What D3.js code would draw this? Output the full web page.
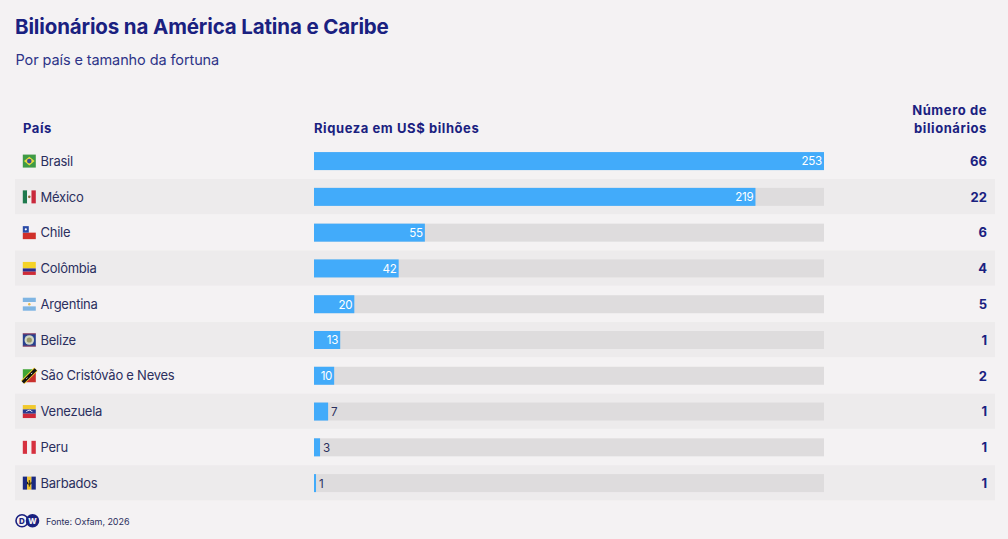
<!DOCTYPE html>
<html lang="pt-BR">
<head>
<meta charset="utf-8">
<title>Bilionários na América Latina e Caribe</title>
<script src="https://cdn.jsdelivr.net/npm/d3@7/dist/d3.min.js"></script>
<style>
  html, body { margin: 0; padding: 0; background: #f4f2f3; }
  svg { display: block; font-family: "Inter", "Noto Sans", sans-serif; }
</style>
</head>
<body>
<svg id="chart" width="1008" height="539"></svg>
<script>
// Wealth and head count per country
const countries = ["Brasil", "México", "Chile", "Colômbia", "Argentina", "Belize", "São Cristóvão e Neves", "Venezuela", "Peru", "Barbados"];
const wealth = [253, 219, 55, 42, 20, 13, 10, 7, 3, 1];
const billionaires = [66, 22, 6, 4, 5, 1, 2, 1, 1, 1];
const flagCodes = ["br", "mx", "cl", "co", "ar", "bz", "kn", "ve", "pe", "bb"];

const titleText = "Bilionários na América Latina e Caribe";
const subtitleText = "Por país e tamanho da fortuna";
const columnCountry = "País";
const columnWealth = "Riqueza em US$ bilhões";
const columnCount = ["Número de", "bilionários"];
const sourceText = "Fonte: Oxfam, 2026";

const navy = "#1a2180";
const ink = "#2b2f5e";
const barBlue = "#42abfa";
const trackGrey = "#dedcdd";
const zebraGrey = "#edebec";

const svg = d3.select("#chart");

const x = d3.scaleLinear().domain([0, 253]).range([314, 824]);
const y = d3.scaleBand().domain(countries).range([143.2, 501]);
const barH = 18;

// Headline block
svg.append("text").attr("x", 15).attr("y", 34).attr("fill", navy)
  .attr("font-size", 20.5).attr("font-weight", 700).attr("letter-spacing", -0.13).text(titleText);
svg.append("text").attr("x", 15.5).attr("y", 65).attr("fill", "#2d3488")
  .attr("font-size", 14.5).attr("letter-spacing", -0.1).text(subtitleText);

// Column headers
const header = svg.append("g").attr("fill", navy).attr("font-size", 13)
  .attr("font-weight", 700).attr("letter-spacing", 0.58);
header.append("text").attr("x", 23).attr("y", 133).text(columnCountry);
header.append("text").attr("x", 314).attr("y", 133).text(columnWealth);
header.selectAll("text.count").data(columnCount).join("text").attr("class", "count")
  .attr("x", 987).attr("y", (d, i) => 115 + i * 18).attr("text-anchor", "end").text(d => d);

// One group per table row
const rows = svg.selectAll("g.row").data(countries).join("g").attr("class", "row")
  .attr("transform", d => `translate(0,${y(d)})`);

rows.filter((d, i) => i % 2 === 1).append("rect")
  .attr("x", 15).attr("y", 0).attr("width", 980).attr("height", y.bandwidth() - 0.7).attr("fill", zebraGrey);

const mid = y.bandwidth() / 2;
rows.append("rect").attr("x", x(0)).attr("y", mid - barH / 2)
  .attr("width", x(253) - x(0)).attr("height", barH).attr("fill", trackGrey);
rows.append("rect").attr("x", x(0)).attr("y", mid - barH / 2)
  .attr("width", (d, i) => x(wealth[i]) - x(0)).attr("height", barH).attr("fill", barBlue);

// Value labels sit inside long bars and just past short ones
rows.append("text")
  .attr("x", (d, i) => wealth[i] >= 10 ? x(wealth[i]) - 2 : x(wealth[i]) + 3)
  .attr("y", mid + 4.4)
  .attr("text-anchor", (d, i) => wealth[i] >= 10 ? "end" : "start")
  .attr("fill", (d, i) => wealth[i] >= 10 ? "#ffffff" : ink)
  .attr("font-size", 11.6).attr("letter-spacing", -0.25)
  .text((d, i) => wealth[i]);

rows.append("text").attr("x", 40.5).attr("y", mid + 4.7).attr("fill", ink)
  .attr("font-size", 13).attr("letter-spacing", -0.25).text(d => d);

rows.append("text").attr("x", 987).attr("y", mid + 4.8).attr("text-anchor", "end")
  .attr("fill", navy).attr("font-size", 13).attr("font-weight", 700)
  .text((d, i) => billionaires[i]);

// Small flag icons, 13 wide by 13 tall
const stripesH = (g, colours, weights) => {
  const total = d3.sum(weights); let at = 0;
  colours.forEach((c, i) => {
    const h = 13 * weights[i] / total;
    g.append("rect").attr("x", 0).attr("y", at).attr("width", 13).attr("height", h).attr("fill", c);
    at += h;
  });
};
const stripesV = (g, colours) => colours.forEach((c, i) => {
  g.append("rect").attr("x", i * 13 / colours.length).attr("y", 0)
    .attr("width", 13 / colours.length).attr("height", 13).attr("fill", c);
});
const flags = {
  br(g) {
    g.append("rect").attr("width", 13).attr("height", 13).attr("fill", "#3f9b45");
    g.append("path").attr("d", "M6.5 2.2L11.8 6.5L6.5 10.8L1.2 6.5Z").attr("fill", "#e8dc3c");
    g.append("circle").attr("cx", 6.5).attr("cy", 6.5).attr("r", 2.3).attr("fill", "#3a4f96");
  },
  mx(g) {
    stripesV(g, ["#1f7a4d", "#f4f2f2", "#c9293c"]);
    g.append("circle").attr("cx", 6.5).attr("cy", 6.5).attr("r", 1.3).attr("fill", "#8a6a3c");
  },
  cl(g) {
    stripesH(g, ["#f4f2f4", "#d0302a"], [1, 1]);
    g.append("rect").attr("width", 6).attr("height", 6.5).attr("fill", "#2a4aa6");
    g.append("circle").attr("cx", 3).attr("cy", 3.2).attr("r", 1.1).attr("fill", "#fff");
  },
  co(g) { stripesH(g, ["#f5d327", "#2b2f8f", "#ce2b37"], [2, 1, 1]); },
  ar(g) {
    stripesH(g, ["#7fb5e3", "#f4f2f4", "#7fb5e3"], [1, 1, 1]);
    g.append("circle").attr("cx", 6.5).attr("cy", 6.5).attr("r", 1.2).attr("fill", "#e3b94a");
  },
  bz(g) {
    g.append("rect").attr("width", 13).attr("height", 13).attr("fill", "#27408f");
    g.append("rect").attr("width", 13).attr("height", 0.8).attr("fill", "#b33a4a");
    g.append("rect").attr("y", 12.2).attr("width", 13).attr("height", 0.8).attr("fill", "#b33a4a");
    g.append("circle").attr("cx", 6.5).attr("cy", 6.5).attr("r", 4.8).attr("fill", "#cfd6c4");
    g.append("circle").attr("cx", 6.5).attr("cy", 6.5).attr("r", 2.6).attr("fill", "#9a9a6a");
  },
  kn(g) {
    g.append("path").attr("d", "M0 0H13L0 13Z").attr("fill", "#3fa535");
    g.append("path").attr("d", "M13 0V13H0Z").attr("fill", "#c9302c");
    g.append("path").attr("d", "M0 13L13 0").attr("stroke", "#f3d02f").attr("stroke-width", 5);
    g.append("path").attr("d", "M0 13L13 0").attr("stroke", "#111").attr("stroke-width", 3.2);
    g.append("path").attr("d", "M3.6 9.4L4.6 8.4M8.4 4.6L9.4 3.6").attr("stroke", "#fff").attr("stroke-width", 1);
  },
  ve(g) {
    stripesH(g, ["#f0c92e", "#2a3a8f", "#cf2a3a"], [1, 1, 1]);
    g.append("path").attr("d", "M3.5 7A3.4 3.4 0 0 1 9.5 7").attr("fill", "none")
      .attr("stroke", "#fff").attr("stroke-width", 0.9);
  },
  pe(g) { stripesV(g, ["#d6313f", "#f4f2f4", "#d6313f"]); },
  bb(g) {
    stripesV(g, ["#1b2a80", "#f2c52e", "#1b2a80"]);
    g.append("path").attr("d", "M6.5 3.5V10M4.7 5.2V7.4H8.3V5.2").attr("fill", "none")
      .attr("stroke", "#111").attr("stroke-width", 0.9);
  }
};
rows.append("g").attr("transform", `translate(22.8,${mid - 6.5})`)
  .each(function (d, i) { flags[flagCodes[i]](d3.select(this)); });

// Publisher mark and source line
const logo = svg.append("g").attr("font-weight", 800).attr("font-size", 8).attr("text-anchor", "middle");
[["D", 22], ["W", 32.5]].forEach(([letter, cx]) => {
  logo.append("circle").attr("cx", cx).attr("cy", 520.8).attr("r", 6)
    .attr("fill", letter === "D" ? "#f4f2f3" : navy).attr("stroke", navy).attr("stroke-width", 1.6);
  logo.append("text").attr("x", cx).attr("y", 523.7)
    .attr("fill", letter === "D" ? navy : "#f4f2f3").text(letter);
});
svg.append("text").attr("x", 46).attr("y", 524.5).attr("fill", ink)
  .attr("font-size", 9).attr("letter-spacing", -0.05).text(sourceText);
</script>
</body>
</html>
